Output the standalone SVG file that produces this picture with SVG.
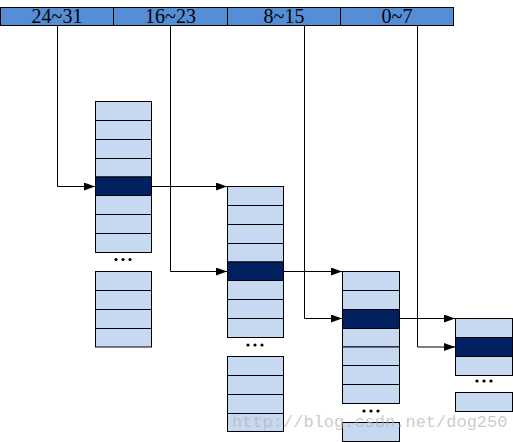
<svg xmlns="http://www.w3.org/2000/svg" width="513" height="442" viewBox="0 0 513 442">
<style>
.bar{fill:#558ed5;stroke:#000;stroke-width:1}
.lt{fill:#c6d9f1;stroke:#000;stroke-width:1}
.dk{fill:#002060;stroke:#000;stroke-width:1}
.lbl{font-family:"Liberation Serif",serif;font-size:20px;fill:#000;text-anchor:middle}
.ln{fill:none;stroke:#000;stroke-width:1}
.dot{fill:#000}
.wm{font-family:"Liberation Mono",monospace;font-size:17px;fill:#b4b4b4;fill-opacity:0.7}
</style>
<defs>
<marker id="ah" markerWidth="11" markerHeight="8" refX="11" refY="4" orient="auto" markerUnits="userSpaceOnUse">
<path d="M0,0 L11,4 L0,8 Z" fill="#000"/>
</marker>
</defs>
<g id="bits">
<rect class="bar" x="0.5" y="7.5" width="113" height="18"/>
<rect class="bar" x="113.5" y="7.5" width="114" height="18"/>
<rect class="bar" x="227.5" y="7.5" width="113" height="18"/>
<rect class="bar" x="340.5" y="7.5" width="113" height="18"/>
<text class="lbl" x="57" y="22.5">24~31</text>
<text class="lbl" x="170.5" y="22.5">16~23</text>
<text class="lbl" x="284" y="22.5">8~15</text>
<text class="lbl" x="397" y="22.5">0~7</text>
</g>
<g id="table1">
<rect class="lt" x="95.5" y="101.5" width="56" height="19"/>
<rect class="lt" x="95.5" y="120.5" width="56" height="19"/>
<rect class="lt" x="95.5" y="139.5" width="56" height="19"/>
<rect class="lt" x="95.5" y="158.5" width="56" height="18.5"/>
<rect class="dk" x="95.5" y="177" width="56" height="18.5"/>
<rect class="lt" x="95.5" y="195.5" width="56" height="19"/>
<rect class="lt" x="95.5" y="214.5" width="56" height="19"/>
<rect class="lt" x="95.5" y="233.5" width="56" height="19"/>
<circle class="dot" cx="116" cy="259.5" r="1.6"/>
<circle class="dot" cx="123" cy="259.5" r="1.6"/>
<circle class="dot" cx="130" cy="259.5" r="1.6"/>
<rect class="lt" x="95.5" y="271.5" width="56" height="19"/>
<rect class="lt" x="95.5" y="290.5" width="56" height="19"/>
<rect class="lt" x="95.5" y="309.5" width="56" height="19"/>
<rect class="lt" x="95.5" y="328.5" width="56" height="18.5"/>
</g>
<g id="table2">
<rect class="lt" x="227.5" y="186.5" width="56" height="19"/>
<rect class="lt" x="227.5" y="205.5" width="56" height="19"/>
<rect class="lt" x="227.5" y="224.5" width="56" height="19"/>
<rect class="lt" x="227.5" y="243.5" width="56" height="18.5"/>
<rect class="dk" x="227.5" y="262" width="56" height="18.5"/>
<rect class="lt" x="227.5" y="280.5" width="56" height="19"/>
<rect class="lt" x="227.5" y="299.5" width="56" height="19"/>
<rect class="lt" x="227.5" y="318.5" width="56" height="19"/>
<circle class="dot" cx="248" cy="345" r="1.6"/>
<circle class="dot" cx="255" cy="345" r="1.6"/>
<circle class="dot" cx="262" cy="345" r="1.6"/>
<rect class="lt" x="227.5" y="356.5" width="56" height="19"/>
<rect class="lt" x="227.5" y="375.5" width="56" height="19"/>
<rect class="lt" x="227.5" y="394.5" width="56" height="19"/>
<rect class="lt" x="227.5" y="413.5" width="56" height="18"/>
</g>
<g id="table3">
<rect class="lt" x="342.5" y="271.5" width="57" height="19"/>
<rect class="lt" x="342.5" y="290.5" width="57" height="19"/>
<rect class="dk" x="342.5" y="309.5" width="57" height="19"/>
<rect class="lt" x="342.5" y="328.5" width="57" height="18.5"/>
<rect class="lt" x="342.5" y="347" width="57" height="18.5"/>
<rect class="lt" x="342.5" y="365.5" width="57" height="19"/>
<rect class="lt" x="342.5" y="384.5" width="57" height="19"/>
<circle class="dot" cx="364" cy="411" r="1.6"/>
<circle class="dot" cx="371" cy="411" r="1.6"/>
<circle class="dot" cx="378" cy="411" r="1.6"/>
<rect class="lt" x="342.5" y="422.5" width="57" height="19"/>
</g>
<g id="table4">
<rect class="lt" x="455.5" y="318.5" width="57" height="19"/>
<rect class="dk" x="455.5" y="337.5" width="57" height="19"/>
<rect class="lt" x="455.5" y="356.5" width="57" height="19"/>
<circle class="dot" cx="477" cy="381" r="1.6"/>
<circle class="dot" cx="484" cy="381" r="1.6"/>
<circle class="dot" cx="491" cy="381" r="1.6"/>
<rect class="lt" x="455.5" y="392.5" width="57" height="19"/>
</g>
<g id="connectors">
<path class="ln" d="M57.5,25.5 V186.5 H95" marker-end="url(#ah)"/>
<path class="ln" d="M151.5,186.5 H227" marker-end="url(#ah)"/>
<path class="ln" d="M170.5,25.5 V271.5 H227" marker-end="url(#ah)"/>
<path class="ln" d="M283.5,271.5 H342" marker-end="url(#ah)"/>
<path class="ln" d="M304.5,25.5 V318.5 H342" marker-end="url(#ah)"/>
<path class="ln" d="M399.5,318.5 H455" marker-end="url(#ah)"/>
<path class="ln" d="M417.5,25.5 V347 H455" marker-end="url(#ah)"/>
</g>
<text class="wm" x="232" y="427">http://blog.csdn.net/dog250</text>
</svg>
